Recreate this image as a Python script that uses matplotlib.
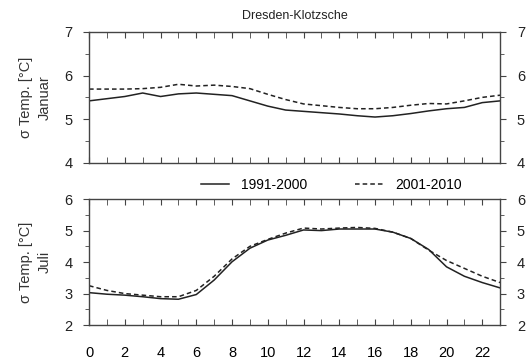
import numpy as np
import matplotlib.pyplot as plt
from matplotlib.ticker import MultipleLocator

plt.rcParams['font.family'] = ['Liberation Sans', 'DejaVu Sans']

hours = list(range(24))
jan_1991 = [5.42, 5.47, 5.52, 5.60, 5.52, 5.58, 5.60, 5.57, 5.54, 5.42, 5.30, 5.21,
            5.18, 5.15, 5.12, 5.08, 5.05, 5.08, 5.13, 5.19, 5.24, 5.27, 5.38, 5.42]
jan_2001 = [5.69, 5.69, 5.69, 5.70, 5.73, 5.80, 5.76, 5.78, 5.75, 5.70, 5.57, 5.45,
            5.35, 5.31, 5.27, 5.24, 5.24, 5.27, 5.32, 5.36, 5.35, 5.42, 5.50, 5.55]
jul_1991 = [3.03, 2.98, 2.95, 2.90, 2.84, 2.82, 2.97, 3.43, 4.01, 4.44, 4.70, 4.85,
            5.02, 5.00, 5.05, 5.05, 5.05, 4.95, 4.75, 4.40, 3.85, 3.55, 3.35, 3.18]
jul_2001 = [3.25, 3.10, 3.00, 2.95, 2.90, 2.90, 3.10, 3.55, 4.10, 4.50, 4.72, 4.92,
            5.08, 5.05, 5.08, 5.10, 5.07, 4.95, 4.75, 4.38, 4.05, 3.80, 3.55, 3.35]

fig = plt.figure(figsize=(5.27, 3.62), dpi=100)
ax1 = fig.add_axes([0.169, 0.550, 0.780, 0.362])
ax2 = fig.add_axes([0.169, 0.102, 0.780, 0.348])

axc = '#444444'
for ax, a, b, ylim, lab in [(ax1, jan_1991, jan_2001, (4, 7), 'Januar'),
                            (ax2, jul_1991, jul_2001, (2, 6), 'Juli')]:
    ax.plot(hours, a, color='#222222', lw=1.1, label='1991-2000')
    ax.plot(hours, b, color='#222222', lw=1.1, ls=(0, (3, 2)), label='2001-2010')
    ax.set_xlim(0, 23)
    ax.set_ylim(*ylim)
    ax.xaxis.set_major_locator(MultipleLocator(2))
    ax.xaxis.set_minor_locator(MultipleLocator(1))
    ax.yaxis.set_major_locator(MultipleLocator(1))
    ax.yaxis.set_minor_locator(MultipleLocator(0.5))
    ax.tick_params(axis='x', which='both', direction='in', top=True, bottom=True,
                   length=4, color=axc, labelsize=10.5, pad=15)
    ax.tick_params(axis='y', which='both', direction='out', left=True, right=True,
                   labelleft=True, labelright=True, length=4, color=axc,
                   labelsize=10.5, pad=8, labelcolor='#222222')
    ax.tick_params(axis='y', which='minor', length=3)
    for s in ax.spines.values():
        s.set_color(axc)
        s.set_linewidth(1.0)
    ax.set_ylabel('σ Temp. [°C]\n' + lab, fontsize=10.5, color='#333333',
                  labelpad=9, linespacing=1.45)

ax1.tick_params(axis='x', labelbottom=False)
ax1.set_title('Dresden-Klotzsche', fontsize=9, color='#222222', pad=9)
ax2.set_xticks(range(0, 23, 2))

h, l = ax1.get_legend_handles_labels()
fig.legend(h, l, loc='center', bbox_to_anchor=(0.629, 0.489), ncol=2, frameon=False,
           fontsize=10, handlelength=2.0, columnspacing=3.4, handletextpad=0.9)

plt.savefig('out.png', dpi=100)
